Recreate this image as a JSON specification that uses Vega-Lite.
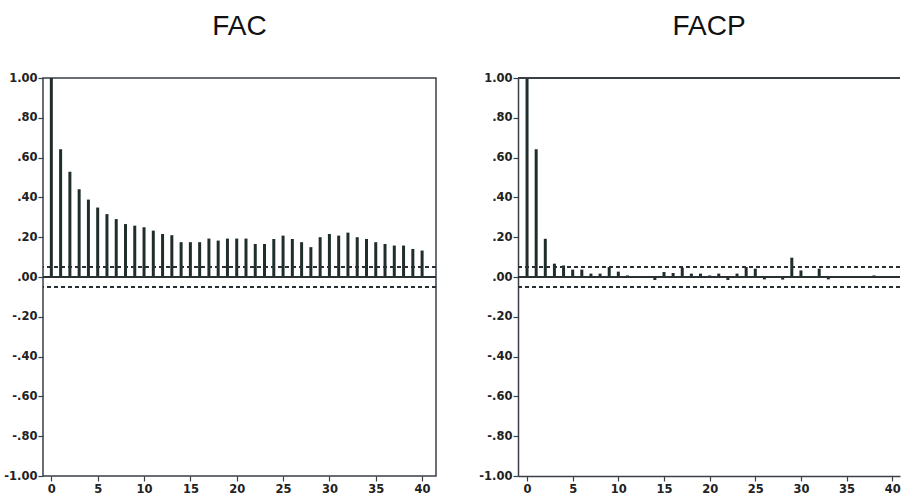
{
  "$schema": "https://vega.github.io/schema/vega-lite/v6.json",
  "background": "white",
  "padding": {"left": 3, "right": 0, "top": 12, "bottom": 0},
  "bounds": "flush",
  "spacing": 82,
  "config": {
    "axis": {"labelFont": "DejaVu Sans", "labelFontWeight": "bold", "labelFontSize": 11.5, "labelColor": "#222222", "tickColor": "#3a3f47", "tickSize": 5, "tickWidth": 1.2, "grid": false, "domain": false, "title": null, "labelOverlap": false},
    "title": {"font": "Liberation Sans", "fontSize": 28, "fontWeight": "normal", "color": "#111111", "offset": 31}
  },
  "datasets": {
    "fac": [
      {"lag": 0, "value": 1.0}, {"lag": 1, "value": 0.642}, {"lag": 2, "value": 0.529}, {"lag": 3, "value": 0.441},
      {"lag": 4, "value": 0.389}, {"lag": 5, "value": 0.349}, {"lag": 6, "value": 0.316}, {"lag": 7, "value": 0.291},
      {"lag": 8, "value": 0.266}, {"lag": 9, "value": 0.258}, {"lag": 10, "value": 0.25}, {"lag": 11, "value": 0.233},
      {"lag": 12, "value": 0.216}, {"lag": 13, "value": 0.21}, {"lag": 14, "value": 0.175}, {"lag": 15, "value": 0.175},
      {"lag": 16, "value": 0.175}, {"lag": 17, "value": 0.193}, {"lag": 18, "value": 0.183}, {"lag": 19, "value": 0.193},
      {"lag": 20, "value": 0.193}, {"lag": 21, "value": 0.193}, {"lag": 22, "value": 0.166}, {"lag": 23, "value": 0.166},
      {"lag": 24, "value": 0.191}, {"lag": 25, "value": 0.208}, {"lag": 26, "value": 0.191}, {"lag": 27, "value": 0.175},
      {"lag": 28, "value": 0.15}, {"lag": 29, "value": 0.2}, {"lag": 30, "value": 0.216}, {"lag": 31, "value": 0.208},
      {"lag": 32, "value": 0.223}, {"lag": 33, "value": 0.2}, {"lag": 34, "value": 0.191}, {"lag": 35, "value": 0.175},
      {"lag": 36, "value": 0.166}, {"lag": 37, "value": 0.158}, {"lag": 38, "value": 0.158}, {"lag": 39, "value": 0.141},
      {"lag": 40, "value": 0.133}
    ],
    "facp": [
      {"lag": 0, "value": 1.0}, {"lag": 1, "value": 0.642}, {"lag": 2, "value": 0.192}, {"lag": 3, "value": 0.067},
      {"lag": 4, "value": 0.058}, {"lag": 5, "value": 0.037}, {"lag": 6, "value": 0.037}, {"lag": 7, "value": 0.017},
      {"lag": 8, "value": 0.017}, {"lag": 9, "value": 0.05}, {"lag": 10, "value": 0.027}, {"lag": 11, "value": 0.008},
      {"lag": 12, "value": 0.0}, {"lag": 13, "value": 0.0}, {"lag": 14, "value": -0.015}, {"lag": 15, "value": 0.025},
      {"lag": 16, "value": 0.02}, {"lag": 17, "value": 0.047}, {"lag": 18, "value": 0.017}, {"lag": 19, "value": 0.017},
      {"lag": 20, "value": 0.008}, {"lag": 21, "value": 0.017}, {"lag": 22, "value": -0.015}, {"lag": 23, "value": 0.017},
      {"lag": 24, "value": 0.05}, {"lag": 25, "value": 0.042}, {"lag": 26, "value": -0.012}, {"lag": 27, "value": -0.005},
      {"lag": 28, "value": -0.013}, {"lag": 29, "value": 0.097}, {"lag": 30, "value": 0.033}, {"lag": 31, "value": 0.003},
      {"lag": 32, "value": 0.042}, {"lag": 33, "value": -0.012}, {"lag": 34, "value": 0.0}, {"lag": 35, "value": 0.0},
      {"lag": 36, "value": 0.0}, {"lag": 37, "value": 0.0}, {"lag": 38, "value": 0.008}, {"lag": 39, "value": 0.0},
      {"lag": 40, "value": 0.0}
    ]
  },
  "hconcat": [
    {
      "title": "FAC",
      "width": 393,
      "height": 398,
      "view": {"stroke": "#3a3f47", "strokeWidth": 1.5},
      "data": {"name": "fac"},
      "layer": [
        {
          "mark": {"type": "rule", "color": "#1f2d2b", "strokeWidth": 3},
          "encoding": {
            "x": {"field": "lag", "type": "quantitative", "scale": {"domain": [-0.9, 41.5], "nice": false, "zero": false},
                  "axis": {"values": [0, 5, 10, 15, 20, 25, 30, 35, 40], "tickCount": 20, "labelPadding": 2, "labelOverlap": false}},
            "y": {"field": "value", "type": "quantitative", "scale": {"domain": [-1, 1], "nice": false},
                  "axis": {"values": [-1, -0.8, -0.6, -0.4, -0.2, 0, 0.2, 0.4, 0.6, 0.8, 1], "tickCount": 20, "labelExpr": "replace(replace(format(datum.value, '.2f'), '0.', '.'), '\u2212', '-')", "labelPadding": 1, "labelOverlap": false}},
            "y2": {"datum": 0}
          }
        },
        {"mark": {"type": "rule", "color": "#2a3035", "strokeWidth": 1.5}, "encoding": {"y": {"datum": 0}}},
        {"mark": {"type": "rule", "color": "#2a3035", "strokeWidth": 1.5, "strokeDash": [4, 3]}, "encoding": {"y": {"datum": 0.05}}},
        {"mark": {"type": "rule", "color": "#2a3035", "strokeWidth": 1.5, "strokeDash": [4, 3]}, "encoding": {"y": {"datum": -0.05}}}
      ]
    },
    {
      "title": "FACP",
      "width": 382,
      "height": 398,
      "view": {"stroke": null},
      "data": {"name": "facp"},
      "layer": [
        {
          "mark": {"type": "rule", "color": "#1f2d2b", "strokeWidth": 3},
          "encoding": {
            "x": {"field": "lag", "type": "quantitative", "scale": {"domain": [-0.99, 40.85], "nice": false, "zero": false},
                  "axis": {"values": [0, 5, 10, 15, 20, 25, 30, 35, 40], "tickCount": 20, "labelPadding": 2, "labelOverlap": false, "domain": true, "domainColor": "#3a3f47", "domainWidth": 1.5}},
            "y": {"field": "value", "type": "quantitative", "scale": {"domain": [-1, 1], "nice": false},
                  "axis": {"values": [-1, -0.8, -0.6, -0.4, -0.2, 0, 0.2, 0.4, 0.6, 0.8, 1], "tickCount": 20, "labelExpr": "replace(replace(format(datum.value, '.2f'), '0.', '.'), '\u2212', '-')", "labelPadding": 1, "labelOverlap": false, "domain": true, "domainColor": "#3a3f47", "domainWidth": 1.5}},
            "y2": {"datum": 0}
          }
        },
        {"mark": {"type": "rule", "color": "#3a3f47", "strokeWidth": 1.5}, "encoding": {"y": {"datum": 1}}},
        {"mark": {"type": "rule", "color": "#2a3035", "strokeWidth": 1.5}, "encoding": {"y": {"datum": 0}}},
        {"mark": {"type": "rule", "color": "#2a3035", "strokeWidth": 1.5, "strokeDash": [4, 3]}, "encoding": {"y": {"datum": 0.05}}},
        {"mark": {"type": "rule", "color": "#2a3035", "strokeWidth": 1.5, "strokeDash": [4, 3]}, "encoding": {"y": {"datum": -0.05}}}
      ]
    }
  ]
}
